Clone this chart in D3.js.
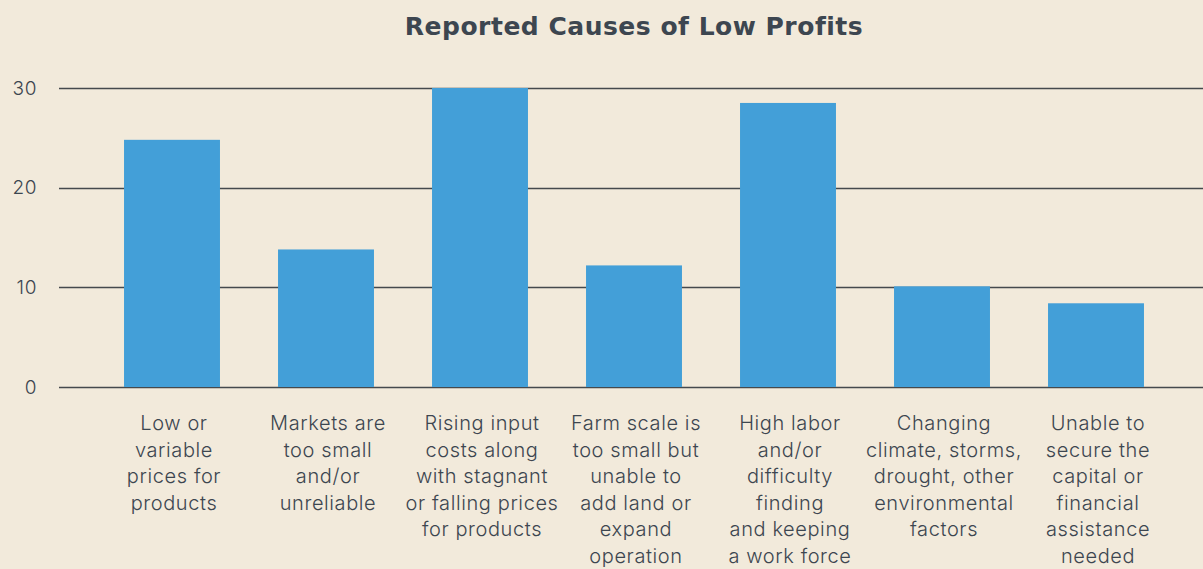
<!DOCTYPE html>
<html>
<head>
<meta charset="utf-8">
<script src="https://cdn.jsdelivr.net/npm/d3@7"></script>
<style>
  body { margin: 0; background: #f2eadb; }
  svg { display: block; font-family: Inter, "Noto Sans", sans-serif; }
</style>
</head>
<body>
<div id="chart"></div>
<script>
// chart data
var categories = [
  ["Low or", "variable", "prices for", "products"],
  ["Markets are", "too small", "and/or", "unreliable"],
  ["Rising input", "costs along", "with stagnant", "or falling prices", "for products"],
  ["Farm scale is", "too small but", "unable to", "add land or", "expand", "operation"],
  ["High labor", "and/or", "difficulty", "finding", "and keeping", "a work force"],
  ["Changing", "climate, storms,", "drought, other", "environmental", "factors"],
  ["Unable to", "secure the", "capital or", "financial", "assistance", "needed"]
];
var values = [24.8, 13.8, 30, 12.2, 28.5, 10.1, 8.4];
var yTicks = [0, 10, 20, 30];

var width = 1203, height = 569;
var textColor = "#3d4650";

var svg = d3.select("#chart").append("svg")
  .attr("width", width)
  .attr("height", height);

svg.append("rect").attr("width", width).attr("height", height).attr("fill", "#f2eadb");

// scales
var x = d3.scaleBand()
  .domain(d3.range(values.length))
  .range([95, 1173])
  .paddingInner(0.377)
  .paddingOuter(0.1885);

var y = d3.scaleLinear().domain([0, 30]).range([387, 88]);

// title
svg.append("text")
  .attr("x", 634)
  .attr("y", 35)
  .attr("text-anchor", "middle")
  .style("font-family", "'DejaVu Sans', sans-serif")
  .style("font-size", "25px")
  .style("font-weight", "bold")
  .style("letter-spacing", "0.5px")
  .style("fill", textColor)
  .text("Reported Causes of Low Profits");

// grid lines
var yAxis = d3.axisLeft(y).tickValues(yTicks).tickSize(0).tickPadding(0);
var gy = svg.append("g").attr("transform", "translate(37,0)").call(yAxis);
gy.select(".domain").remove();
gy.selectAll("text")
  .style("font-size", "19px")
  .style("font-weight", 300)
  .style("letter-spacing", "0.6px")
  .style("font-family", "Inter, 'Noto Sans', sans-serif")
  .style("fill", textColor);

svg.selectAll(".grid")
  .data(yTicks)
  .enter().append("line")
  .attr("class", "grid")
  .attr("x1", 59)
  .attr("x2", width)
  .attr("y1", function(d) { return Math.round(y(d)) + 0.5; })
  .attr("y2", function(d) { return Math.round(y(d)) + 0.5; })
  .style("stroke", "#45494d")
  .style("stroke-width", "1.3px");

// bars
svg.selectAll(".bar")
  .data(values)
  .enter().append("rect")
  .attr("class", "bar")
  .attr("x", function(d, i) { return x(i); })
  .attr("width", x.bandwidth())
  .attr("y", function(d) { return y(d); })
  .attr("height", function(d) { return y(0) - y(d); })
  .style("fill", "#439fd8");

// category labels
var labels = svg.selectAll(".cat")
  .data(categories)
  .enter().append("text")
  .attr("class", "cat")
  .attr("text-anchor", "middle")
  .style("font-size", "20px")
  .style("font-weight", 300)
  .style("letter-spacing", "0.6px")
  .style("fill", textColor);

labels.selectAll("tspan")
  .data(function(d, i) { return d.map(function(t) { return { t: t, i: i }; }); })
  .enter().append("tspan")
  .attr("x", function(d) { return x(d.i) + x.bandwidth() / 2 + 2; })
  .attr("y", function(d, j) { return 430 + j * 26.6; })
  .text(function(d) { return d.t; });
</script>
</body>
</html>
